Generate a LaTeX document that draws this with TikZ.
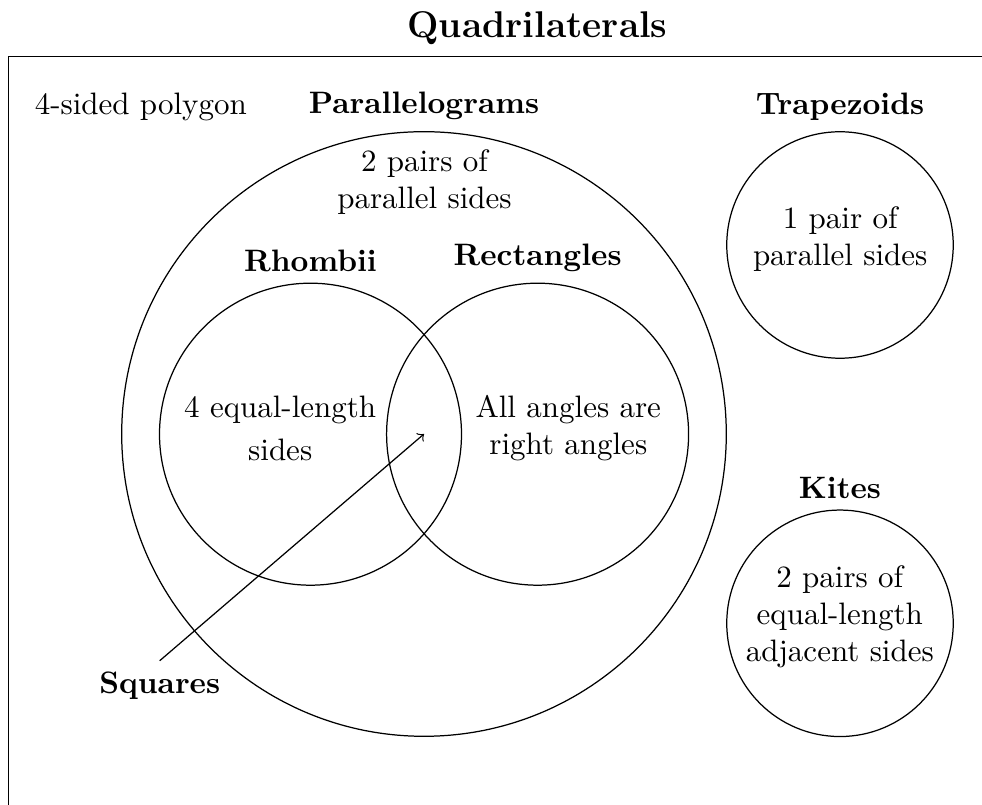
\documentclass[tikz,border=0pt]{standalone}
\begin{document}
\begin{tikzpicture}[x=0.32258pt, y=-0.32258pt,
  set/.style={draw, circle, inner sep=0pt, line width=0.4pt},
  bigset/.style={set, minimum size=604.6*0.32258pt},
  midset/.style={set, minimum size=302*0.32258pt},
  smallset/.style={set, minimum size=226.5*0.32258pt},
  desc/.style={align=center, inner sep=0pt},
  every label/.style={font=\bfseries}
]
\path[use as bounding box, clip] (0,0) rectangle (982,805);
\draw (8.3,56.7) rectangle (1066.7,1000);
\node[font=\large\bfseries, anchor=base] (title) at (537.5,38) {Quadrilaterals};

\node[bigset, label={above:Parallelograms}] (par) at (424,434) {};
\node[midset, label={above:Rhombii}] (rh) at (310.5,434.2) {};
\node[midset, label={above:Rectangles}] (re) at (537.6,434.2) {};
\node[smallset, label={above:Trapezoids}] (tr) at (840,245) {};
\node[smallset, label={above:Kites}] (ki) at (840,623.3) {};

\node[desc] (partxt) at (424.5,182.1) {2 pairs of\\parallel sides};
\node[desc] (rhtxt) at (280.2,428.3) {4 equal-length\\[2pt]sides};
\node[desc] (retxt) at (568.3,428.4) {All angles are\\right angles};
\node[desc] (trtxt) at (840.2,238.9) {1 pair of\\parallel sides};
\node[desc] (kitxt) at (839.8,616.5) {2 pairs of\\equal-length\\adjacent sides};
\node[anchor=base] (poly) at (140.8,115) {4-sided polygon};
\node[font=\bfseries, anchor=base] (sq) at (159.7,693.3) {Squares};
\draw[->] (sq.north) -- (par.center);
\end{tikzpicture}
\end{document}
